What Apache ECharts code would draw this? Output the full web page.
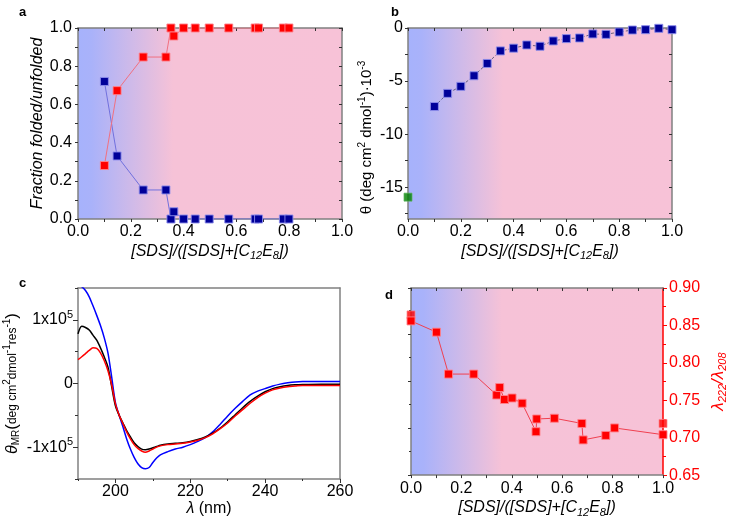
<!DOCTYPE html>
<html><head><meta charset="utf-8">
<script src="https://cdn.jsdelivr.net/npm/echarts@6/dist/echarts.min.js"></script>
<style>html,body{margin:0;padding:0;background:#fff}#c{width:729px;height:519px}</style>
</head><body><div id="c"></div>
<script>
// ---- Panel a: fraction folded / unfolded ----
const aX        = [0.1, 0.148, 0.247, 0.333, 0.352, 0.363, 0.4, 0.444, 0.497, 0.571, 0.671, 0.684, 0.778, 0.799];
const aUnfolded = [0.72, 0.33, 0.152, 0.152, 0.0, 0.038, 0, 0, 0, 0, 0, 0, 0, 0];
const aFolded   = [0.28, 0.672, 0.848, 0.848, 1.0, 0.958, 1, 1, 1, 1, 1, 1, 1, 1];
// ---- Panel b: theta vs fraction ----
const bX     = [0.1,0.15,0.2,0.25,0.3,0.35,0.4,0.45,0.5,0.55,0.6,0.65,0.7,0.75,0.8,0.85,0.9,0.95,1.0];
const bTheta = [-7.4,-6.16,-5.5,-4.5,-3.34,-2.16,-1.9,-1.6,-1.72,-1.22,-1.0,-0.94,-0.56,-0.6,-0.38,-0.19,-0.16,-0.03,-0.16];
const bRefX = [0];
const bRefTheta = [-15.94];
// ---- Panel c: CD spectra (units of 1e5) ----
const cLambda = [190,191,192,193,194,195,196,197,198,199,200,201,202,203,204,205,206,207,208,209,210,211,212,214,216,218,220,222,224,226,228,230,232,234,236,238,240,242,244,246,248,250,255,260];
const cBlue  = [1.55,1.52,1.46,1.36,1.22,1.07,0.91,0.72,0.48,0.1,-0.3,-0.5,-0.68,-0.87,-1.03,-1.16,-1.26,-1.32,-1.34,-1.32,-1.24,-1.17,-1.12,-1.07,-1.03,-1.0,-0.96,-0.91,-0.85,-0.76,-0.64,-0.51,-0.39,-0.28,-0.18,-0.12,-0.08,-0.04,-0.01,0.01,0.025,0.03,0.03,0.03];
const cBlack = [0.78,0.9,0.88,0.84,0.76,0.68,0.56,0.42,0.26,-0.05,-0.35,-0.5,-0.62,-0.74,-0.84,-0.93,-0.99,-1.03,-1.04,-1.03,-1.01,-0.99,-0.97,-0.95,-0.94,-0.93,-0.91,-0.88,-0.84,-0.78,-0.7,-0.6,-0.49,-0.38,-0.28,-0.2,-0.13,-0.08,-0.05,-0.03,-0.02,-0.015,-0.01,-0.01];
const cRed   = [0.375,0.42,0.47,0.52,0.56,0.55,0.48,0.36,0.2,-0.02,-0.32,-0.5,-0.63,-0.76,-0.87,-0.96,-1.02,-1.06,-1.08,-1.06,-1.03,-1.0,-0.98,-0.96,-0.95,-0.94,-0.92,-0.89,-0.85,-0.79,-0.71,-0.62,-0.51,-0.41,-0.31,-0.22,-0.15,-0.1,-0.07,-0.05,-0.04,-0.03,-0.03,-0.03];
// ---- Panel d: ratio lambda222/lambda208 ----
const dX     = [0, 0.101, 0.149, 0.249, 0.34, 0.352, 0.371, 0.401, 0.441, 0.496, 0.499, 0.569, 0.678, 0.683, 0.773, 0.808, 1.0];
const dRatio = [0.856, 0.841, 0.785, 0.785, 0.757, 0.767, 0.751, 0.753, 0.746, 0.708, 0.725, 0.726, 0.719, 0.697, 0.703, 0.713, 0.704];
const dExtraX = [0, 1.0];
const dExtraRatio = [0.864, 0.719];
// ticks
const bTicks = [-15, -10, -5, 0];
const cXTicks = [200, 220, 240, 260];
const cYTicks = [-1, 0, 1];

const chart = echarts.init(document.getElementById('c'), null, {renderer: 'canvas'});
const FONT = '"Liberation Sans", Arial, Helvetica, sans-serif';
const FS = 16;
const AXC = '#808080';
const TKC = '#333333';
function grad() {
  return new echarts.graphic.LinearGradient(0, 0, 1, 0, [
    {offset: 0, color: '#a6b2fc'},
    {offset: 0.05, color: '#a9b2fa'},
    {offset: 0.36, color: '#f6c2d7'},
    {offset: 1, color: '#f7c2d7'}
  ]);
}
const sxRich = {
  i: {fontStyle: 'italic', fontSize: 16, fontFamily: FONT, color: '#000', lineHeight: 18},
  s: {fontStyle: 'italic', fontSize: 11, fontFamily: FONT, color: '#000', lineHeight: 11, padding: [10, 0, 0, 0]}
};
const sdsName = '{i|[SDS]/([SDS]+[C}{s|12}{i|E}{s|8}{i|])}';

function axLine(c) { return {show: true, onZero: false, lineStyle: {color: c || AXC, width: 1.5}}; }
function fracX(grid) {
  return {
    type: 'value', gridIndex: grid, position: 'bottom', min: 0, max: 1, interval: 0.2,
    axisLine: axLine(), axisTick: {show: true, inside: false, length: 3, lineStyle: {color: TKC}},
    minorTick: {show: true, splitNumber: 2, length: 3, lineStyle: {color: TKC}},
    axisLabel: {show: true, color: '#000', fontSize: FS, fontFamily: FONT, margin: 5, formatter: v => v.toFixed(1)},
    splitLine: {show: false}, minorSplitLine: {show: false},
    name: sdsName, nameLocation: 'middle', nameGap: 20,
    nameTextStyle: {rich: sxRich}
  };
}
function topX(grid, min, max, interval, minor) {
  return {
    type: 'value', gridIndex: grid, position: 'top', min, max, interval,
    axisLine: axLine(), axisTick: {show: true, inside: true, length: 3, lineStyle: {color: TKC}},
    minorTick: {show: minor, splitNumber: 2, length: 3, lineStyle: {color: TKC}},
    axisLabel: {show: false}, splitLine: {show: false}
  };
}
const sq = (fill, border) => ({color: fill, borderColor: border, borderWidth: 1});
const hiddenLine = {show: false, onZero: false};

const option = {
  animation: false,
  backgroundColor: '#fff',
  textStyle: {fontFamily: FONT},
  title: [
    {text: 'a', left: 14, top: 1, textStyle: {fontSize: 13, fontWeight: 'bold', color: '#000', fontFamily: FONT}},
    {text: 'b', left: 386, top: 1, textStyle: {fontSize: 13, fontWeight: 'bold', color: '#000', fontFamily: FONT}},
    {text: 'c', left: 14, top: 272, textStyle: {fontSize: 13, fontWeight: 'bold', color: '#000', fontFamily: FONT}},
    {text: 'd', left: 380, top: 284, textStyle: {fontSize: 13, fontWeight: 'bold', color: '#000', fontFamily: FONT}}
  ],
  grid: [
    {left: 78, top: 28, width: 264, height: 191, show: true, backgroundColor: grad(), borderWidth: 0},
    {left: 408, top: 28, width: 264, height: 191, show: true, backgroundColor: grad(), borderWidth: 0},
    {left: 78, top: 288, width: 262, height: 191, show: false},
    {left: 411, top: 288, width: 264, height: 191, show: true, backgroundColor: grad(), borderWidth: 0}
  ],
  xAxis: [
    fracX(0),                       // 0 a bottom
    topX(0, 0, 1, 0.2, true),       // 1 a top
    fracX(1),                       // 2 b bottom
    topX(1, 0, 1, 0.2, true),       // 3 b top
    { // 4 c bottom main
      type: 'value', gridIndex: 2, position: 'bottom', min: 190, max: 260,
      axisLine: axLine(),
      axisTick: {show: true, length: 4, customValues: cXTicks, lineStyle: {color: TKC}},
      axisLabel: {show: true, customValues: cXTicks, color: '#000', fontSize: FS, fontFamily: FONT, margin: 5},
      splitLine: {show: false},
      name: '{i|λ}{n| (nm)}', nameLocation: 'middle', nameGap: 21,
      nameTextStyle: {rich: {i: {fontStyle: 'italic', fontSize: 16, fontFamily: FONT, color: '#000'}, n: {fontSize: 16, fontFamily: FONT, color: '#000'}}}
    },
    { // 5 c bottom minor
      type: 'value', gridIndex: 2, position: 'bottom', min: 190, max: 260,
      axisLine: hiddenLine,
      axisTick: {show: true, length: 2, customValues: [190, 210, 230, 250], lineStyle: {color: TKC}},
      axisLabel: {show: false}, splitLine: {show: false}
    },
    { // 6 c top
      type: 'value', gridIndex: 2, position: 'top', min: 190, max: 260,
      axisLine: axLine(), axisTick: {show: false}, axisLabel: {show: false}, splitLine: {show: false}
    },
    fracX(3),                       // 7 d bottom
    topX(3, 0, 1, 0.2, true)        // 8 d top
  ],
  yAxis: [
    { // 0 a left
      type: 'value', gridIndex: 0, position: 'left', min: 0, max: 1, interval: 0.2,
      axisLine: axLine(), axisTick: {show: true, length: 3, lineStyle: {color: TKC}},
      minorTick: {show: true, splitNumber: 2, length: 3, lineStyle: {color: TKC}},
      axisLabel: {color: '#000', fontSize: FS, fontFamily: FONT, margin: 6, formatter: v => v.toFixed(1)},
      splitLine: {show: false},
      name: 'Fraction folded/unfolded', nameLocation: 'middle', nameGap: 30,
      nameTextStyle: {fontStyle: 'italic', fontSize: 16, color: '#000', fontFamily: FONT}
    },
    { // 1 a right
      type: 'value', gridIndex: 0, position: 'right', min: 0, max: 1, interval: 0.2,
      axisLine: axLine(), axisTick: {show: true, inside: true, length: 3, lineStyle: {color: TKC}},
      minorTick: {show: true, splitNumber: 2, length: 3, lineStyle: {color: TKC}},
      axisLabel: {show: false}, splitLine: {show: false}
    },
    { // 2 b left main
      type: 'value', gridIndex: 1, position: 'left', min: -18, max: 0,
      axisLine: axLine(),
      axisTick: {show: true, length: 3, customValues: bTicks, lineStyle: {color: TKC}},
      axisLabel: {customValues: bTicks, color: '#000', fontSize: FS, fontFamily: FONT, margin: 5},
      splitLine: {show: false},
      name: 'θ (deg cm{sup|2} dmol{sup|-1})·10{sup|-3}', nameLocation: 'middle', nameGap: 29,
      nameTextStyle: {fontSize: 15, color: '#000', fontFamily: FONT, lineHeight: 17, padding: [0, 28, 0, 0],
        rich: {sup: {fontSize: 10, lineHeight: 10, padding: [0, 0, 9, 0], color: '#000', fontFamily: FONT}}}
    },
    { // 3 b left minor
      type: 'value', gridIndex: 1, position: 'left', min: -18, max: 0,
      axisLine: hiddenLine,
      axisTick: {show: true, length: 3, customValues: [-17.5, -12.5, -7.5, -2.5], lineStyle: {color: TKC}},
      axisLabel: {show: false}, splitLine: {show: false}
    },
    { // 4 b right
      type: 'value', gridIndex: 1, position: 'right', min: -18, max: 0,
      axisLine: axLine(),
      axisTick: {show: true, inside: true, length: 3, customValues: [-17.5, -15, -12.5, -10, -7.5, -5, -2.5, 0], lineStyle: {color: TKC}},
      axisLabel: {show: false}, splitLine: {show: false}
    },
    { // 5 c left main
      type: 'value', gridIndex: 2, position: 'left', min: -1.5, max: 1.5,
      axisLine: axLine(),
      axisTick: {show: true, length: 5, customValues: cYTicks, lineStyle: {color: TKC}},
      axisLabel: {customValues: cYTicks, color: '#000', fontSize: FS, fontFamily: FONT, margin: 5,
        formatter: v => v === 0 ? '0' : (v > 0 ? '1x10{sup|5}' : '-1x10{sup|5}'),
        rich: {sup: {fontSize: 11, lineHeight: 11, padding: [0, 0, 10, 0], color: '#000', fontFamily: FONT}}},
      splitLine: {show: false},
      name: '{t|θ}{sub|MR}{p|(}{n|deg cm}{sup|2}{n|dmol}{sup|-1}{n|res}{sup|-1}{p|)}', nameLocation: 'middle', nameGap: 52,
      nameTextStyle: {rich: {
        t: {fontStyle: 'italic', fontSize: 16, fontFamily: FONT, color: '#000', lineHeight: 18},
        sub: {fontSize: 10, lineHeight: 10, padding: [8, 0, 0, 0], fontFamily: FONT, color: '#000'},
        p: {fontSize: 17, fontFamily: FONT, color: '#000', lineHeight: 18},
        n: {fontSize: 12, fontFamily: FONT, color: '#000', lineHeight: 18},
        sup: {fontSize: 10, lineHeight: 10, padding: [0, 0, 11, 0], fontFamily: FONT, color: '#000'}
      }}
    },
    { // 6 c left minor
      type: 'value', gridIndex: 2, position: 'left', min: -1.5, max: 1.5,
      axisLine: hiddenLine,
      axisTick: {show: true, length: 3, customValues: [-1.5, -0.5, 0.5, 1.5], lineStyle: {color: TKC}},
      axisLabel: {show: false}, splitLine: {show: false}
    },
    { // 7 c right
      type: 'value', gridIndex: 2, position: 'right', min: -1.5, max: 1.5,
      axisLine: axLine(), axisTick: {show: false}, axisLabel: {show: false}, splitLine: {show: false}
    },
    { // 8 d right (data)
      type: 'value', gridIndex: 3, position: 'right', min: 0.65, max: 0.9, interval: 0.05,
      axisLine: axLine('#ff0000'),
      axisTick: {show: true, length: 4, lineStyle: {color: '#ff0000'}},
      minorTick: {show: true, splitNumber: 2, length: 3, lineStyle: {color: '#ff0000'}},
      axisLabel: {color: '#ff0000', fontSize: FS, fontFamily: FONT, margin: 6, formatter: v => v.toFixed(2)},
      splitLine: {show: false},
      name: '{i|λ}{s|222}{i|/λ}{s|208}', nameLocation: 'middle', nameGap: 46, nameRotate: 90,
      nameTextStyle: {rich: {
        i: {fontStyle: 'italic', fontSize: 17, color: '#ff0000', fontFamily: FONT, lineHeight: 19},
        s: {fontStyle: 'italic', fontSize: 11, color: '#ff0000', fontFamily: FONT, lineHeight: 11, padding: [8, 0, 0, 0]}
      }}
    },
    { // 9 d left (ticks only)
      type: 'value', gridIndex: 3, position: 'left', min: 0, max: 7.96, interval: 2,
      axisLine: axLine(), axisTick: {show: true, length: 3, lineStyle: {color: TKC}},
      minorTick: {show: true, splitNumber: 2, length: 2, lineStyle: {color: TKC}},
      axisLabel: {show: false}, splitLine: {show: false}
    }
  ],
  series: [
    {type: 'line', xAxisIndex: 0, yAxisIndex: 0, data: aX.map((x, i) => [x, aUnfolded[i]]),
      symbol: 'rect', symbolSize: 8, lineStyle: {color: '#7070dd', width: 1}, itemStyle: sq('#000099', 'rgba(140,140,235,0.9)')},
    {type: 'line', xAxisIndex: 0, yAxisIndex: 0, data: aX.map((x, i) => [x, aFolded[i]]),
      symbol: 'rect', symbolSize: 8, lineStyle: {color: '#f07080', width: 1}, itemStyle: sq('#ff0000', 'rgba(255,130,140,0.9)')},
    {type: 'line', xAxisIndex: 2, yAxisIndex: 2, data: bX.map((x, i) => [x, bTheta[i]]),
      symbol: 'rect', symbolSize: 8, lineStyle: {color: 'rgba(80,80,110,0.85)', width: 1, type: [3, 2]}, itemStyle: sq('#000099', 'rgba(140,140,235,0.9)')},
    {type: 'scatter', xAxisIndex: 2, yAxisIndex: 2, data: bRefX.map((x, i) => [x, bRefTheta[i]]),
      symbol: 'rect', symbolSize: 8, itemStyle: sq('#008000', 'rgba(90,180,90,0.9)')},
    {type: 'line', xAxisIndex: 4, yAxisIndex: 5, data: cLambda.map((x, i) => [x, cBlue[i]]), showSymbol: false, smooth: 0.3,
      lineStyle: {color: '#0000ff', width: 1.5}},
    {type: 'line', xAxisIndex: 4, yAxisIndex: 5, data: cLambda.map((x, i) => [x, cBlack[i]]), showSymbol: false, smooth: 0.3,
      lineStyle: {color: '#000000', width: 1.5}},
    {type: 'line', xAxisIndex: 4, yAxisIndex: 5, data: cLambda.map((x, i) => [x, cRed[i]]), showSymbol: false, smooth: 0.3,
      lineStyle: {color: '#ff0000', width: 1.5}},
    {type: 'line', xAxisIndex: 7, yAxisIndex: 8, data: dX.map((x, i) => [x, dRatio[i]]),
      symbol: 'rect', symbolSize: 8, lineStyle: {color: '#f04050', width: 1}, itemStyle: sq('#ff0000', 'rgba(255,130,140,0.9)')},
    {type: 'scatter', xAxisIndex: 7, yAxisIndex: 8, data: dExtraX.map((x, i) => [x, dExtraRatio[i]]),
      symbol: 'rect', symbolSize: 8, itemStyle: sq('#ff0000', 'rgba(255,130,140,0.9)')}
  ]
};
chart.setOption(option);
</script>
</body></html>
